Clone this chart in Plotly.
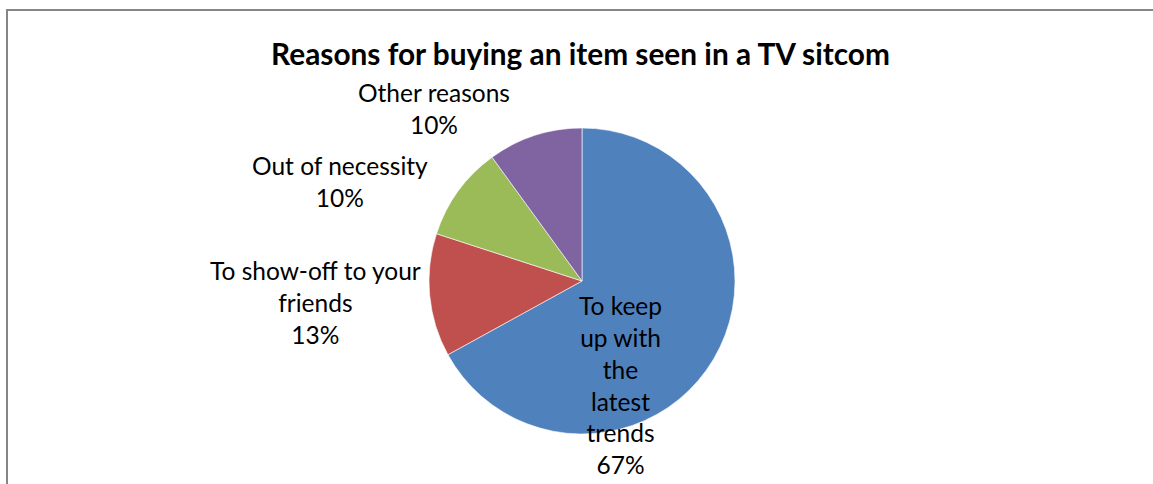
import textwrap
import plotly.graph_objects as go

# Survey results: share of respondents by reason
categories = [
    "To keep up with the latest trends",
    "To show-off to your friends",
    "Out of necessity",
    "Other reasons",
]
shares = [67, 13, 10, 10]
colors = ["#4F81BD", "#C0504D", "#9BBB59", "#8064A2"]

W, H = 1153, 484
FONT = "Lato"


def px(x, y):
    """Pixel position -> paper coordinates (zero margins)."""
    return x / W, 1 - y / H


# Pie geometry in pixels
cx, cy, r = 582, 281, 153
x0, y0 = px(cx - r, cy + r)
x1, y1 = px(cx + r, cy - r)

fig = go.Figure(
    go.Pie(
        labels=categories,
        values=shares,
        sort=False,
        direction="clockwise",
        rotation=0,
        textinfo="none",
        marker=dict(colors=colors, line=dict(color="rgba(255,255,255,0.6)", width=1)),
        domain=dict(x=[x0, x1], y=[y0, y1]),
        showlegend=False,
    )
)

# Data label placement (centre of each text block, pixels) and wrap width
label_layout = {
    "To keep up with the latest trends": (620, 385, 8),
    "To show-off to your friends": (315, 302, 19),
    "Out of necessity": (340, 181, 20),
    "Other reasons": (434, 108, 20),
}

annotations = []
for name, val in zip(categories, shares):
    lx, ly, wrap = label_layout[name]
    text = "<br>".join(textwrap.wrap(name, wrap) + [f"{val}%"])
    ax, ay = px(lx, ly)
    annotations.append(
        dict(
            x=ax, y=ay, xref="paper", yref="paper",
            text=text, showarrow=False,
            xanchor="center", yanchor="middle", align="center",
            font=dict(family=FONT, size=24.5, color="#000000"),
        )
    )

fig.update_layout(
    width=W,
    height=H,
    margin=dict(l=0, r=0, t=0, b=0),
    paper_bgcolor="white",
    plot_bgcolor="white",
    title=dict(
        text="<b>Reasons for buying an item seen in a TV sitcom</b>",
        x=580.5 / W, xanchor="center",
        y=1 - 55 / H, yanchor="middle",
        font=dict(family=FONT, size=29.8, color="#000000"),
    ),
    annotations=annotations,
    shapes=[
        dict(
            type="rect", xref="paper", yref="paper",
            x0=7 / W, x1=1.02, y0=-0.02, y1=1 - 10 / H,
            line=dict(color="#868686", width=2),
            fillcolor="rgba(0,0,0,0)",
        )
    ],
)

fig.write_html("out.html")
